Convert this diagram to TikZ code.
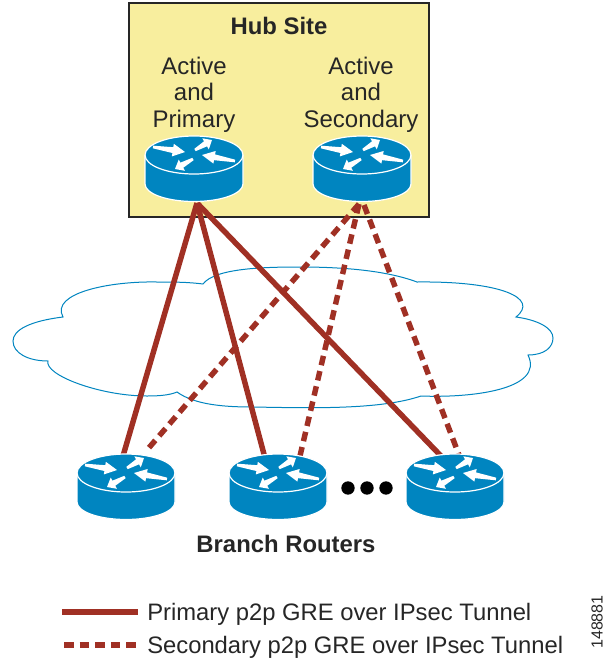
\documentclass[tikz,border=0pt]{standalone}
\usepackage{fontspec}
\setmainfont{Liberation Sans}
\usetikzlibrary{calc}
\definecolor{hubfill}{HTML}{F8EE9E}
\definecolor{routerblue}{HTML}{0085C0}
\definecolor{tunnel}{HTML}{A03024}
\newcommand{\routerdraw}[3]{%
  \node[routerbox] (#1) at (#2,#3+13.5) {};
  \begin{scope}[shift={(#2,#3)}]
    \path[fill=routerblue,draw=white,line width=.9] (-49,0) -- (-49,29) arc[start angle=180,end angle=0,x radius=49,y radius=17.5] -- (49,0) arc[start angle=0,end angle=-180,x radius=49,y radius=19] -- cycle;
    \draw[white,line width=.9] (-49,0) arc[start angle=180,end angle=0,x radius=49,y radius=19];
    \routerarrow{-41,-8}{-9,-3}
    \routerarrow{1,-5}{18,-15}
    \routerarrow{41,6}{8,0}
    \routerarrow{-1,4}{-19,14}
  \end{scope}}
\newcommand{\routerarrow}[2]{%
  \coordinate (t) at (#1); \coordinate (h) at (#2);
  \fill[white] ($(t)!1pt!90:(h)$) -- ($(t)!0.62!(h)!2.2pt!90:(h)$) -- ($(t)!0.62!(h)!4.8pt!90:(h)$) -- (h) -- ($(t)!0.62!(h)!4.8pt!-90:(h)$) -- ($(t)!0.62!(h)!2.2pt!-90:(h)$) -- ($(t)!1pt!-90:(h)$) -- cycle;}
\tikzset{
  routerbox/.style={minimum width=73.5pt,minimum height=49pt,inner sep=0pt,outer sep=0pt},
  solidtunnel/.style={draw=tunnel,line width=4.1pt},
  dashtunnel/.style={draw=tunnel,line width=4.1pt,dash pattern=on 7.2pt off 4.5pt},
  label/.style={inner sep=0pt,font=\fontsize{18}{18}\selectfont,text=black!85},
  boldlabel/.style={inner sep=0pt,font=\fontsize{17.9}{18}\selectfont\bfseries,text=black!85},
  legendtext/.style={inner sep=0pt,anchor=base west,font=\fontsize{17.85}{18}\selectfont,text=black!85},
  dotmark/.style={circle,fill=black,minimum size=10pt,inner sep=0pt}
}
\begin{document}
\begin{tikzpicture}[x=.75pt,y=-.75pt]
\useasboundingbox (0,0) rectangle (605,662);
\node[draw=black!85,fill=hubfill,line width=.8pt,minimum width=225pt,minimum height=160.5pt,inner sep=0pt] (hub) at (279,110) {};
\node[boldlabel,anchor=base] (hubtitle) at (279,34) {Hub Site};
\node[label,anchor=base] (a1) at (194,74) {Active};
\node[label,anchor=base] (a2) at (194,100) {and};
\node[label,anchor=base] (a3) at (194,127) {Primary};
\node[label,anchor=base] (b1) at (361,74) {Active};
\node[label,anchor=base] (b2) at (361,100) {and};
\node[label,anchor=base] (b3) at (361,127) {Secondary};
% cloud
\draw[routerblue,line width=.75pt,fill=white] (203,284)
  .. controls (188,282) and (172,282) .. (157,282)
  .. controls (110,281) and (50,293) .. (63,317)
  .. controls (30,321) and (13,330) .. (13,341)
  .. controls (13,353) and (28,361) .. (48,361)
  .. controls (44,375) and (100,396) .. (147,396)
  .. controls (160,396) and (170,395) .. (177,392)
  .. controls (195,405) and (225,407) .. (253,407)
  .. controls (310,408) and (380,410) .. (421,396)
  .. controls (470,398) and (545,390) .. (528,355)
  .. controls (545,355) and (553,347) .. (553,338)
  .. controls (553,328) and (538,320) .. (516,317)
  .. controls (540,298) and (500,281) .. (417,282)
  .. controls (385,270) and (340,267) .. (300,267)
  .. controls (265,267) and (215,268) .. (203,284) -- cycle;
% named connector ends
\coordinate (p1) at (197,203);
\coordinate (s1) at (359,204);
\coordinate (s2) at (364,205);
\coordinate (e1) at (123,456);
\coordinate (e2) at (265,458);
\coordinate (e3) at (441,456);
\coordinate (d1) at (147,450);
\coordinate (d2) at (300,456);
\coordinate (d3) at (459,455);
\draw[dashtunnel] (s1) -- (d1);
\draw[dashtunnel] (s1) -- (d2);
\draw[dashtunnel] (s2) -- (d3);
\draw[solidtunnel] (p1) -- (e1);
\draw[solidtunnel] (p1) -- (e2);
\draw[solidtunnel] (p1) -- (e3);
% routers
\routerdraw{hubA}{194}{155}
\routerdraw{hubB}{362}{155}
\routerdraw{r1}{126}{473}
\routerdraw{r2}{278}{473}
\routerdraw{r3}{455}{473}
\node[dotmark] (dot1) at (348,488) {};
\node[dotmark] (dot2) at (367,488) {};
\node[dotmark] (dot3) at (386,488) {};
\node[boldlabel,anchor=base] (branch) at (286,552) {Branch Routers};
% legend
\coordinate (l1a) at (62,612); \coordinate (l1b) at (138,612);
\coordinate (l2a) at (64,645); \coordinate (l2b) at (138,645);
\draw[solidtunnel] (l1a) -- (l1b);
\draw[dashtunnel] (l2a) -- (l2b);
\node[legendtext] (lt1) at (147,620) {Primary p2p GRE over IPsec Tunnel};
\node[legendtext] (lt2) at (147,653) {Secondary p2p GRE over IPsec Tunnel};
\node[inner sep=0pt,rotate=90,font=\fontsize{12}{13}\selectfont,text=black!85] (code) at (597,622) {148881};
\end{tikzpicture}
\end{document}
